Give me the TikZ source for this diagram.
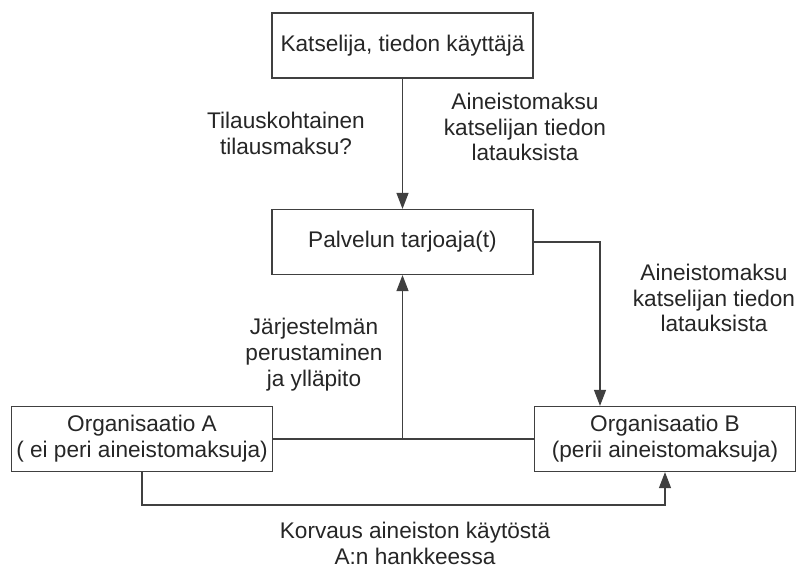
\documentclass[tikz,border=0pt]{standalone}
\usepackage{fontspec}
\setmainfont{Liberation Sans}
\usetikzlibrary{arrows.meta}
\tikzset{
  laatikko/.style={draw=black!75, line width=1.2bp, minimum width=261bp,
    minimum height=65bp, inner sep=0pt, align=center, text=black!85},
  teksti/.style={align=center, text=black!85, inner sep=0pt},
  viiva/.style={draw=black!75, line width=1.2bp},
  nuoli/.style={viiva, -{Triangle[length=16bp,width=12bp]}}
}
\begin{document}
\begin{tikzpicture}[x=1bp,y=-1bp,font=\fontsize{22.7}{26}\selectfont]
\useasboundingbox (0,0) rectangle (803,571);
% laatikot
\node[laatikko] (kats) at (402.5,45.5) {Katselija, tiedon käyttäjä};
\node[laatikko] (palv) at (402.5,242) {Palvelun tarjoaja(t)};
\node[laatikko] (orgA) at (142,439) {Organisaatio A\\( ei peri aineistomaksuja)};
\node[laatikko] (orgB) at (665,439) {Organisaatio B\\(perii aineistomaksuja)};
% tekstit
\node[teksti] (tilaus) at (286,133) {Tilauskohtainen\\tilausmaksu?};
\node[teksti] (maksu1) at (525,127) {Aineistomaksu\\katselijan tiedon\\latauksista};
\node[teksti] (maksu2) at (714,298) {Aineistomaksu\\katselijan tiedon\\latauksista};
\node[teksti] (jarj) at (314,355) {Järjestelmän\\perustaminen\\ja ylläpito};
\node[teksti] (korv) at (415,543) {Korvaus aineiston käytöstä\\A:n hankkeessa};
% yhteydet
\coordinate (kulma) at (600,242);
\coordinate (ala) at (142,505);
\draw[nuoli] (kats) -- (palv);
\draw[nuoli] (palv.east) -- (kulma) -- (kulma |- orgB.north);
\draw[viiva] (orgA.east) -- (orgB.west);
\draw[nuoli] (palv.south |- orgA.east) -- (palv.south);
\draw[nuoli] (orgA.south) -- (ala) -| (orgB.south);
\end{tikzpicture}
\end{document}
